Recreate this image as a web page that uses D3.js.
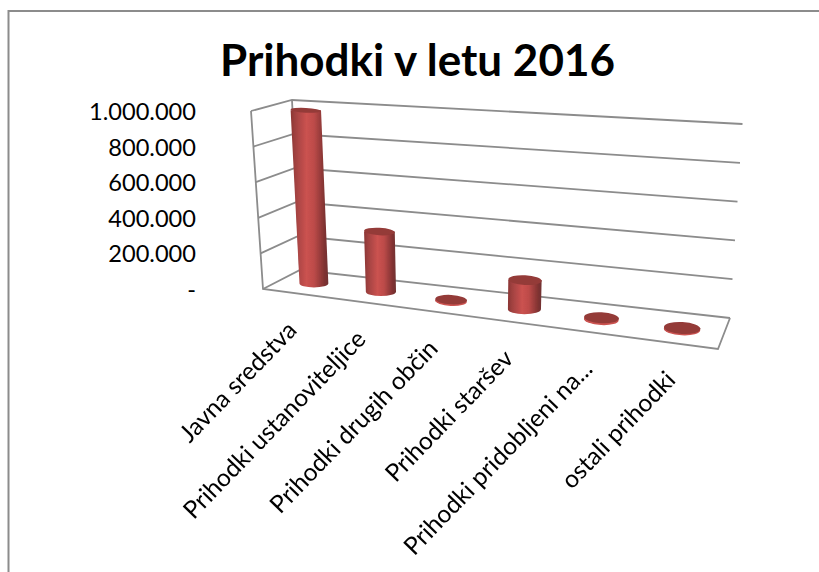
<!DOCTYPE html>
<html>
<head>
<meta charset="utf-8">
<script src="https://cdn.jsdelivr.net/npm/d3@7"></script>
<style>
  html, body { margin: 0; background: #fff; }
  svg { display: block; }
  text { font-family: Lato, "Open Sans", sans-serif; fill: #000; }
</style>
</head>
<body>
<svg id="chart" width="819" height="572"></svg>
<script>
"use strict";

/* ── Data ─────────────────────────────────────────────── */
const categories = [
  "Javna sredstva",
  "Prihodki ustanoviteljice",
  "Prihodki drugih občin",
  "Prihodki staršev",
  "Prihodki pridobljeni na...",
  "ostali prihodki"
];
const values = [985000, 335000, 3000, 155000, 4000, 2000];
const tickValues = [0, 200000, 400000, 600000, 800000, 1000000];
const tickLabels = ["-", "200.000", "400.000", "600.000", "800.000", "1.000.000"];

/* ── Box corners on screen (x, y) ─────────────────────── */
const FLOOR = { fl: [263, 289], bl: [300, 270], br: [730, 318], fr: [718, 349] };
const ROOF  = { fl: [251, 111], bl: [292, 100], br: [742.5, 124], fr: [734, 146] };
const DEPTH_K = 0.15;   // foreshortening along the category axis

const GRID = "#8c8c8c";

const svg = d3.select("#chart");

const lerp = (a, b, t) => [a[0] + (b[0] - a[0]) * t, a[1] + (b[1] - a[1]) * t];

function quadAt(q, u, d) {
  return lerp(lerp(q.fl, q.fr, u), lerp(q.bl, q.br, u), d);
}

const xScale = d3.scaleBand().domain(categories).range([0, 1]);
const yScale = d3.scaleLinear().domain([0, 1000000]).range([0, 1]);

/* u: category axis, d: front→back, h: floor→roof */
function project(u, d, h) {
  const uw = u / (1 + DEPTH_K * (1 - u));
  return lerp(quadAt(FLOOR, uw, d), quadAt(ROOF, uw, d), h);
}

/* ── Frame ────────────────────────────────────────────── */
svg.append("rect")
  .attr("x", 8.5).attr("y", 11)
  .attr("width", 830).attr("height", 600)
  .attr("fill", "#fff")
  .attr("stroke", "#8c8c8c")
  .attr("stroke-width", 2);

/* ── Title ────────────────────────────────────────────── */
svg.append("text")
  .attr("x", 417.5).attr("y", 76)
  .attr("text-anchor", "middle")
  .attr("font-size", 44)
  .attr("font-weight", 700)
  .text("Prihodki v letu 2016");

/* ── Walls and floor ──────────────────────────────────── */
const line = d3.line();
const grid = svg.append("g")
  .attr("fill", "none")
  .attr("stroke", GRID)
  .attr("stroke-width", 1.8);

tickValues.forEach((v) => {
  const h = yScale(v);
  grid.append("path").attr("d", line([
    project(0, 0, h), project(0, 1, h), project(1, 1, h)
  ]));
});
grid.append("path").attr("d", line([project(0, 0, 1), project(0, 0, 0), project(1, 0, 0), project(1, 1, 0)]));
grid.append("path").attr("d", line([project(0, 1, 0), project(0, 1, 1)]));

/* ── Value axis labels ────────────────────────────────── */
svg.append("g").selectAll("text")
  .data(tickValues)
  .join("text")
  .attr("x", 196)
  .attr("y", (d) => project(0, 0, yScale(d))[1] + 9)
  .attr("text-anchor", "end")
  .attr("font-size", 23.6)
  .text((d, i) => tickLabels[i]);

/* ── Cylinders ────────────────────────────────────────── */
const defs = svg.append("defs");
const grad = defs.append("linearGradient").attr("id", "side");
[[0, "#8a3533"], [0.12, "#a04140"], [0.42, "#cb5250"], [0.62, "#bd4b49"], [0.9, "#7f3231"], [1, "#703231"]]
  .forEach(([o, c]) => grad.append("stop").attr("offset", o).attr("stop-color", c));
defs.append("filter").attr("id", "soft")
  .append("feGaussianBlur").attr("stdDeviation", 0.5);

const TILT = 3;
const bars = svg.append("g").attr("filter", "url(#soft)");

categories.forEach((cat, i) => {
  const u = xScale(cat) + xScale.bandwidth() / 2;
  const h = yScale(values[i]);
  const du = xScale.bandwidth() * 0.22, dd = 0.2;
  const base = project(u, 0.5, 0);
  const top = project(u, 0.5, h);

  const ellipse = (level) => {
    const a = project(u - du, 0.5, level), b = project(u + du, 0.5, level);
    const c = project(u, 0.5 - dd, level), e = project(u, 0.5 + dd, level);
    return { rx: Math.abs(b[0] - a[0]) / 2, ry: Math.abs(e[1] - c[1]) / 2 };
  };
  const eb = ellipse(0), et = ellipse(h);
  const g = bars.append("g");

  /* side wall with rounded bottom */
  g.append("path")
    .attr("fill", "url(#side)")
    .attr("d", `M${top[0] - et.rx},${top[1]}`
      + `L${base[0] - eb.rx},${base[1]}`
      + `A${eb.rx},${eb.ry} 0 0 0 ${base[0] + eb.rx},${base[1]}`
      + `L${top[0] + et.rx},${top[1]}Z`);

  /* lit rim under the flat discs */
  if (h < 0.02) {
    g.append("ellipse")
      .attr("cx", base[0]).attr("cy", base[1] + 1)
      .attr("rx", eb.rx).attr("ry", eb.ry)
      .attr("fill", "#cb5250")
      .attr("transform", `rotate(${TILT} ${base[0]} ${base[1]})`);
  }

  g.append("ellipse")
    .attr("cx", top[0]).attr("cy", top[1])
    .attr("rx", et.rx).attr("ry", et.ry)
    .attr("fill", "#943a39")
    .attr("transform", `rotate(${TILT} ${top[0]} ${top[1]})`);
});

/* ── Category labels ──────────────────────────────────── */
svg.append("g").selectAll("text")
  .data(categories)
  .join("text")
  .attr("transform", (d) => {
    const p = project(xScale(d) + xScale.bandwidth() / 2, 0, 0);
    return `translate(${p[0] + 2},${p[1] + 38}) rotate(-46)`;
  })
  .attr("text-anchor", "end")
  .attr("font-size", 24.5)
  .text((d) => d);
</script>
</body>
</html>
